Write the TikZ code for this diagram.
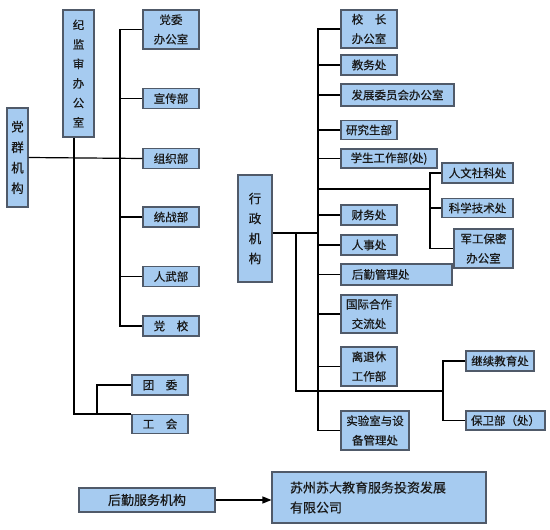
\documentclass[tikz,border=0pt]{standalone}
\usepackage{fontspec}
\setmainfont{Noto Sans CJK SC}[FakeBold=0.5]
\usetikzlibrary{arrows.meta,calc}
\definecolor{boxfill}{RGB}{166,203,240}
\definecolor{boxline}{RGB}{80,90,105}
\begin{document}
\begin{tikzpicture}[x=1pt,y=-1pt,
  box/.style={draw=boxline, fill=boxfill, line width=1.1pt, inner sep=0pt, align=center, text=black!90,
    font=\fontsize{11.5}{19.5}\selectfont},
  big/.style={font=\fontsize{13}{20}\selectfont},
  link/.style={line width=1.2pt, black}]
\useasboundingbox (0,0) rectangle (550,530);
\fill[white] (0,0) rectangle (550,530);

% ---------- left part ----------
\node[box, minimum width=21pt, minimum height=99pt, font=\fontsize{12.5}{20.5}\selectfont] (dq) at (17.5,157.5) {党\\群\\机\\构};
\node[box, minimum width=31pt, minimum height=127pt] (jj) at (78.5,73.5) {纪\\监\\审\\办\\公\\室};
\node[box, minimum width=56pt, minimum height=39pt] (dw) at (171,29.5) {党委\\办公室};
\node[box, minimum width=56pt, minimum height=20pt] (xc) at (171,98.5) {宣传部};
\node[box, minimum width=56pt, minimum height=20pt] (zz) at (171,158.5) {组织部};
\node[box, minimum width=56pt, minimum height=20pt] (tz) at (171,217) {统战部};
\node[box, minimum width=56pt, minimum height=20pt] (rw) at (171,276.5) {人武部};
\node[box, minimum width=56pt, minimum height=20pt] (dx) at (171,326) {党\quad 校};
\node[box, minimum width=56pt, minimum height=20pt] (ty) at (160,385) {团\quad 委};
\node[box, minimum width=56pt, minimum height=19pt] (gh) at (160,424) {工\quad 会};

\coordinate (tL) at (120,0);
\coordinate (j1) at (97,415);
\draw[link] (dq.east) -- (zz.west);
\draw[link] (dw.west) -| (tL |- dx.west) -- (dx.west);
\foreach \n in {xc,tz,rw} \draw[link] (\n.west) -- (\n.west -| tL);
\draw[link] ([xshift=-4.5pt]jj.south) |- (gh.north west);
\draw[link] (ty.west) -| (j1);

% ---------- right part ----------
\node[box, minimum width=34pt, minimum height=107pt, font=\fontsize{12.5}{20}\selectfont] (xz) at (255,228.5) {行\\政\\机\\构};
\node[box, minimum width=56pt, minimum height=38pt] (xzb) at (369,29) {校\quad 长\\办公室};
\node[box, minimum width=56pt, minimum height=20pt] (jw) at (369,65) {教务处};
\node[box, minimum width=113pt, minimum height=22pt] (fz) at (397.5,95) {发展委员会办公室};
\node[box, minimum width=56pt, minimum height=19pt] (yjs) at (369,130) {研究生部};
\node[box, minimum width=96pt, minimum height=19pt] (xs) at (389,158.5) {学生工作部(处)};
\node[box, minimum width=56pt, minimum height=20pt] (cw) at (369,215) {财务处};
\node[box, minimum width=56pt, minimum height=20pt] (rs) at (369,245) {人事处};
\node[box, minimum height=21pt, inner xsep=11pt, text width=89pt, align=left] (hq) at (396.5,274.5) {后勤管理处};
\node[box, minimum width=56pt, minimum height=38pt] (gj) at (369,314) {国际合作\\交流处};
\node[box, minimum width=56pt, minimum height=39pt] (lt) at (369,366.5) {离退休\\工作部};
\node[box, minimum width=68pt, minimum height=39pt] (sy) at (375,430.5) {实验室与设\\备管理处};

\node[box, minimum width=71pt, minimum height=20pt] (rwk) at (477.5,173) {人文社科处};
\node[box, minimum width=71pt, minimum height=19pt] (kx) at (477.5,208) {科学技术处};
\node[box, minimum width=59pt, minimum height=39pt] (jg) at (483.5,248.5) {军工保密\\办公室};
\node[box, minimum width=68pt, minimum height=20pt] (jx) at (500,361) {继续教育处};
\node[box, minimum width=79pt, minimum height=19pt] (bw) at (505.5,420.5) {保卫部（处）};

\coordinate (tR) at (318,0);
\coordinate (s1) at (430,189);
\coordinate (bx) at (296,0);
\coordinate (b2) at (443,391);
\coordinate (xzo) at ([yshift=-4.5pt]xz.east);

\draw[link] (xzb.west) -| (tR |- sy.west) -- (sy.west);
\foreach \n in {jw,fz,yjs,xs,cw,rs,hq,gj,lt} \draw[link] (\n.west) -- (\n.west -| tR);
\draw[link] (xzo) -- (xzo -| tR);
\draw[link] (tR |- s1) -- (s1);
\draw[link] (rwk.west) -| (s1 |- jg.west) -- (jg.west);
\draw[link] (kx.west) -- (kx.west -| s1);
\draw[link] (xzo -| bx) |- (b2);
\draw[link] (jx.west) -| (b2 |- bw.west) -- (bw.west);

% ---------- bottom ----------
\node[box, big, minimum width=136pt, minimum height=24pt] (hf) at (147,500) {后勤服务机构};
\node[box, big, minimum height=51pt, inner xsep=18pt, text width=178pt, align=left] (sz) at (379,497.5) {苏州苏大教育服务投资发展\\有限公司};
\draw[link, -{Triangle[length=9pt,width=7pt]}] (hf.east) -- (sz.west |- hf.east);
\end{tikzpicture}
\end{document}
